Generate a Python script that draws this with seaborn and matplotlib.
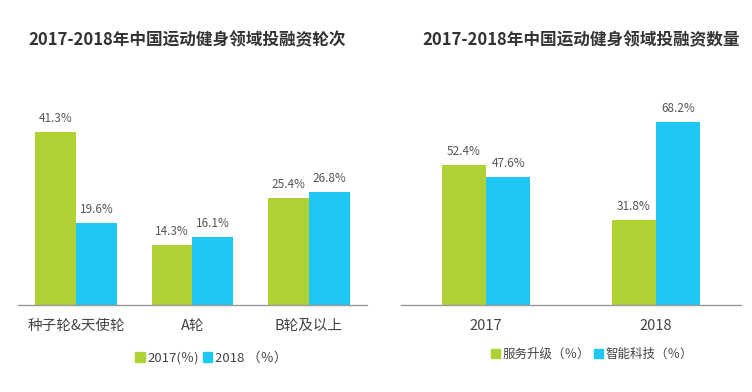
import pandas as pd
import seaborn as sns
import matplotlib.pyplot as plt
from matplotlib.patches import Patch

# 数据
rounds = ['种子轮&天使轮', 'A轮', 'B轮及以上']
round_2017 = [41.3, 14.3, 25.4]
round_2018 = [19.6, 16.1, 26.8]

years = ['2017', '2018']
service_upgrade = [52.4, 31.8]
smart_tech = [47.6, 68.2]

green = '#B0D136'
blue = '#1FC8F2'

sns.set_theme(style='white')
plt.rcParams['font.family'] = ['Noto Sans CJK SC', 'DejaVu Sans']

df_left = pd.DataFrame({
    'cat': rounds * 2,
    'val': round_2017 + round_2018,
    'series': ['2017(％)'] * 3 + ['2018 （％）'] * 3,
})
df_right = pd.DataFrame({
    'cat': years * 2,
    'val': service_upgrade + smart_tech,
    'series': ['服务升级（％）'] * 2 + ['智能科技 （％）'] * 2,
})

fig = plt.figure(figsize=(7.52, 3.92), dpi=100)
ax1 = fig.add_axes([18 / 752, 87 / 392, 349 / 752, 205 / 392])
ax2 = fig.add_axes([401 / 752, 87 / 392, 340 / 752, 205 / 392])

sns.barplot(data=df_left, x='cat', y='val', hue='series', ax=ax1, width=0.7,
            palette=[green, blue], saturation=1, legend=False, linewidth=0)
sns.barplot(data=df_right, x='cat', y='val', hue='series', ax=ax2, width=0.52,
            palette=[green, blue], saturation=1, legend=False, linewidth=0)

ax1.set_ylim(0, 48.8)
ax2.set_ylim(0, 76.5)

for ax in (ax1, ax2):
    for c in ax.containers:
        ax.bar_label(c, fmt='%.1f%%', padding=5, fontsize=8.5, color='#555555')
    ax.set_xlabel('')
    ax.set_ylabel('')
    ax.set_yticks([])
    ax.tick_params(axis='x', length=0, pad=10, labelsize=10.5, labelcolor='#444444')
    sns.despine(ax=ax, left=True)
    ax.spines['bottom'].set_color('#999999')
    ax.spines['bottom'].set_linewidth(1)

ax1.set_xlim(-0.5, 2.5)
ax2.set_xlim(-0.5, 1.5)

fig.text(187 / 752, 1 - 40 / 392, '2017-2018年中国运动健身领域投融资轮次', ha='center', va='center',
         fontsize=12, fontweight='bold', color='#333333')
fig.text(581 / 752, 1 - 40 / 392, '2017-2018年中国运动健身领域投融资数量', ha='center', va='center',
         fontsize=12, fontweight='bold', color='#333333')

leg_kw = dict(frameon=False, ncol=2, handlelength=0.7, handleheight=0.7, handletextpad=0.2,
              columnspacing=0.3, labelcolor='#444444')
fig.legend([Patch(color=green), Patch(color=blue)], ['2017(％)', '2018 （％）'],
           loc='center', bbox_to_anchor=(211 / 752, 1 - 358 / 392), fontsize=9.5, **leg_kw)
fig.legend([Patch(color=green), Patch(color=blue)], ['服务升级（％）', '智能科技（％）'],
           loc='center', bbox_to_anchor=(592 / 752, 1 - 354 / 392), fontsize=9, **leg_kw)

fig.savefig('out.png', dpi=100)
